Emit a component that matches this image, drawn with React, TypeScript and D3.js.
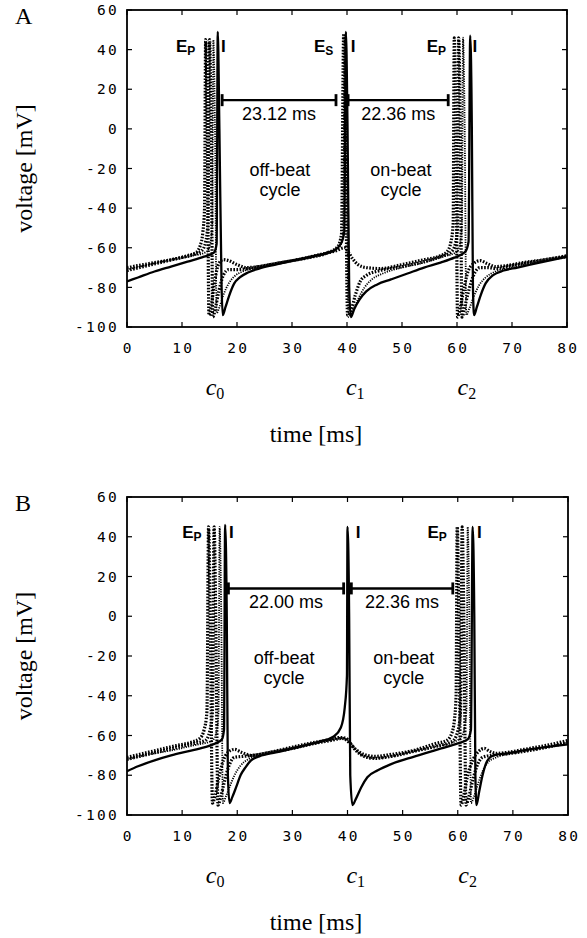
import React from 'react';
import * as d3 from 'd3';

type P = [number, number];

// ---- axis ticks ----
const xTickValues = [0, 10, 20, 30, 40, 50, 60, 70, 80];
const yTickValues = [60, 40, 20, 0, -20, -40, -60, -80, -100];

// ---- Panel A traces: [time ms, voltage mV] ----
const aSolid: P[] = [
  [0, -77], [2, -75], [5, -72], [8, -69.5], [11, -67], [14, -64.5], [15.8, -62.5], [16.3, -58], [16.5, 49], [16.8, 0],
  [17.2, -80], [17.4, -94], [17.9, -90], [18.6, -84], [19.5, -78], [20.5, -75], [22, -72.5], [24, -70.5], [27, -68.5],
  [31, -66], [35, -63.5], [37.5, -61.5], [38.9, -58], [39.5, -52], [39.8, 49], [40.1, 0], [40.4, -80], [40.7, -95],
  [41.3, -91], [42.3, -86], [43.5, -82], [45.5, -78.5], [48, -76], [51, -73], [54, -70], [57, -67.5], [59.5, -65],
  [61.5, -62], [62.1, -57], [62.4, 47], [62.7, 0], [62.9, -80], [63.1, -94], [63.6, -90], [64.3, -84], [65.2, -78],
  [66.5, -74], [68.5, -71.5], [71, -70], [75, -67.5], [80, -64.5],
];
const aDot1: P[] = [
  [0, -70], [3, -68.5], [6, -67], [9, -65.5], [11, -64], [12.5, -62.5], [13.3, -59], [13.8, -52], [14.1, -40], [14.3, 45],
  [14.6, 0], [14.9, -94], [15.4, -88], [16, -76], [16.7, -68], [17.5, -66], [18.5, -66.5], [20, -68.5], [21.8, -70],
  [24, -69.5], [27, -68], [31, -66], [35, -63.5], [38, -61.5], [39.6, -60], [40.2, -62], [41, -65.5], [42, -68.5],
  [43.5, -70], [46, -70.5], [50, -68.5], [54, -66], [57, -64], [58.2, -62], [58.9, -57], [59.3, -48], [59.5, 46],
  [59.8, 0], [60.1, -95], [60.6, -90], [61.3, -80], [62, -72], [63, -68], [64.2, -66.5], [65.5, -68], [67, -69.5],
  [69, -69], [72, -67.5], [76, -66], [80, -64],
];
const aDot2: P[] = [
  [0, -71.5], [3, -69.5], [6, -67.5], [9, -65.5], [12, -63.5], [13.6, -61.5], [14.3, -57], [14.7, -48], [15.0, 45],
  [15.3, 0], [15.6, -95], [16.1, -90], [16.7, -82], [17.5, -74], [18.5, -71], [20, -71], [22, -70.5], [25, -69],
  [29, -67], [33, -65], [36.5, -62.5], [38.3, -59.5], [39.0, -53], [39.4, 48], [39.7, 0], [40.1, -94], [40.7, -92],
  [41.5, -84], [42.4, -77], [43.5, -74], [46, -71.5], [50, -69.5], [54, -67], [57, -64.5], [59, -62], [59.7, -58],
  [60.1, -50], [60.3, 46], [60.6, 0], [60.9, -95], [61.4, -90], [62.1, -82], [63, -74], [64.2, -70], [65.5, -70],
  [67, -70.5], [70, -69], [74, -67], [80, -64.5],
];
const aDot3: P[] = [
  [0, -71], [4, -68.5], [8, -66], [12, -64], [14.5, -62], [15.2, -57], [15.5, -48], [15.7, 45], [16.0, 0], [16.3, -93],
  [16.8, -90], [17.5, -84], [18.5, -78], [19.5, -74.5], [21, -72], [24, -70], [28, -67.5], [32, -65.5], [36, -63],
  [38.5, -60], [39.3, -54], [39.6, 47], [39.9, 0], [40.3, -95], [41, -92], [42, -86], [43.2, -80], [44.5, -76],
  [46.5, -73], [50, -70], [54, -67.5], [57.5, -64.5], [60, -62], [60.6, -57], [60.9, -48], [61.1, 46], [61.4, 0],
  [61.7, -94], [62.2, -91], [63, -85], [64, -79], [65.2, -75], [67, -72], [70, -70], [75, -67], [80, -64.5],
];

// ---- Panel B traces ----
const bSolid: P[] = [
  [0, -78], [2, -75.5], [5, -72.5], [8, -70], [11, -68], [14, -66], [16, -64], [17.2, -62], [17.6, -57], [17.8, 46],
  [18.1, 0], [18.3, -80], [18.6, -94], [19.1, -91], [19.8, -86], [20.6, -80], [21.5, -76], [22.5, -72.5], [24, -70.5],
  [27, -68.5], [31, -66], [35, -63], [37.5, -60.5], [38.8, -56], [39.5, -46], [39.9, -30], [40.0, 45], [40.3, 0],
  [40.5, -80], [40.9, -95], [41.5, -92], [42.5, -86], [43.6, -81], [45.5, -77.5], [47.8, -74.5], [51, -71.5],
  [54, -69], [57, -66.5], [60, -64], [61.8, -62], [62.4, -57], [62.7, 45], [63.0, 0], [63.2, -80], [63.4, -95],
  [63.9, -88], [64.5, -80], [65.3, -73], [66.5, -70], [69, -69], [73, -67], [80, -64.5],
];
const bDot1: P[] = [
  [0, -71], [3, -69], [6, -67], [9, -65], [11.5, -63.5], [13.2, -61.5], [14.0, -57], [14.5, -48], [14.8, 45], [15.1, 0],
  [15.5, -94], [16, -90], [16.6, -82], [17.3, -74], [18.3, -68.5], [19.5, -67], [20.8, -68.5], [22.5, -70], [25, -69],
  [29, -66.5], [33, -64], [36, -62.5], [38.7, -61], [39.8, -61.5], [40.5, -64], [41.5, -67], [43, -69.5], [45, -70.5],
  [48, -69.5], [52, -67.5], [56, -64], [58, -62.5], [58.9, -59], [59.4, -52], [59.7, -40], [59.9, 45], [60.2, 0],
  [60.6, -95], [61.1, -90], [61.8, -80], [62.8, -72], [63.8, -68], [64.8, -66.5], [65.8, -68], [67, -69], [69, -68.5],
  [72, -67], [76, -65], [80, -62.5],
];
const bDot2: P[] = [
  [0, -72], [3, -70], [6, -68], [9, -66], [12, -64], [14.2, -62.5], [15.0, -58], [15.5, -48], [15.8, 45], [16.1, 0],
  [16.5, -95], [17, -91], [17.6, -84], [18.4, -76], [19.5, -71], [21, -70.5], [23, -70], [26, -68.5], [30, -66.5],
  [34, -64], [37, -62.5], [39, -61.5], [40.3, -63.5], [41.5, -67.5], [43, -70.5], [45, -71.5], [48, -70.5], [52, -68],
  [56, -65.5], [59, -63], [60.0, -58], [60.5, -48], [60.8, 45], [61.1, 0], [61.5, -95], [62, -91], [62.6, -84],
  [63.4, -76], [64.5, -71], [66, -70], [68, -69.5], [72, -68], [76, -66], [80, -63.5],
];
const bDot3: P[] = [
  [0, -72], [4, -69.5], [8, -67.5], [12, -65], [15.5, -62.5], [16.3, -57.5], [16.6, -48], [16.8, 45], [17.1, 0],
  [17.4, -94], [17.9, -91], [18.6, -86], [19.5, -80], [20.5, -75.5], [22, -72], [25, -69.5], [29, -67], [33, -64.5],
  [36.5, -62.5], [39, -61.5], [40.2, -62.5], [41.2, -66], [42.7, -70], [45, -71.5], [48, -70.5], [52, -68],
  [56, -65.5], [59.5, -63], [60.8, -60], [61.3, -55], [61.6, -45], [61.8, 45], [62.1, 0], [62.4, -94], [62.9, -91],
  [63.6, -85], [64.5, -78], [65.5, -73.5], [67, -71], [70, -69], [75, -66.5], [80, -63.5],
];

// ---- annotation texts ----
const aIntervals = ['23.12 ms', '22.36 ms'];
const bIntervals = ['22.00 ms', '22.36 ms'];
const cycleNames = ['off-beat', 'on-beat'];
const cLabels = ['0', '1', '2'];

type Style = 'solid' | 'dotThick' | 'dotFine';
interface Trace { data: P[]; style: Style }
interface Tag { t: number; main: string; sub?: string }
interface Bar { t0: number; t1: number; label: string }

interface PanelCfg {
  letter: string;
  top: number; bottom: number; left: number; right: number;
  traces: Trace[];
  tags: Tag[];
  bars: Bar[];
  barV: number; tagV: number;
  cycleT: number[];
  cT: number[];
}

const panels: PanelCfg[] = [
  {
    letter: 'A', top: 10, bottom: 327, left: 127, right: 567,
    traces: [
      { data: aDot1, style: 'dotThick' }, { data: aDot2, style: 'dotThick' },
      { data: aDot3, style: 'dotFine' }, { data: aSolid, style: 'solid' },
    ],
    tags: [
      { t: 8.9, main: 'E', sub: 'P' }, { t: 17.1, main: 'I' },
      { t: 34.0, main: 'E', sub: 'S' }, { t: 40.7, main: 'I' },
      { t: 54.5, main: 'E', sub: 'P' }, { t: 62.8, main: 'I' },
    ],
    bars: [
      { t0: 17.3, t1: 38.0, label: aIntervals[0] },
      { t0: 40.2, t1: 58.4, label: aIntervals[1] },
    ],
    barV: 14.5, tagV: 38.8,
    cycleT: [27.8, 49.8],
    cT: [16, 41.5, 61.8],
  },
  {
    letter: 'B', top: 497, bottom: 815, left: 127, right: 568,
    traces: [
      { data: bDot1, style: 'dotThick' }, { data: bDot2, style: 'dotThick' },
      { data: bDot3, style: 'dotFine' }, { data: bSolid, style: 'solid' },
    ],
    tags: [
      { t: 10.0, main: 'E', sub: 'P' }, { t: 18.5, main: 'I' },
      { t: 41.5, main: 'I' },
      { t: 54.5, main: 'E', sub: 'P' }, { t: 63.5, main: 'I' },
    ],
    bars: [
      { t0: 18.4, t1: 39.3, label: bIntervals[0] },
      { t0: 40.7, t1: 59.1, label: bIntervals[1] },
    ],
    barV: 14, tagV: 39.3,
    cycleT: [28.5, 50.2],
    cT: [16, 41.5, 61.8],
  },
];

const monoFont = '"DejaVu Sans Mono", monospace';
const serif = '"Liberation Serif", "Times New Roman", serif';
const sans = '"Liberation Sans", Arial, sans-serif';

function Panel({ cfg }: { cfg: PanelCfg }) {
  const x = d3.scaleLinear().domain([0, 80]).range([cfg.left, cfg.right]);
  const y = d3.scaleLinear().domain([-100, 60]).range([cfg.bottom, cfg.top]);
  const line = d3.line<P>().x(d => x(d[0])).y(d => y(d[1])).curve(d3.curveMonotoneX);
  const clipId = `clip-${cfg.letter}`;
  const tick = 5;
  const midY = (cfg.top + cfg.bottom) / 2;
  const styleProps = (s: Style) => {
    if (s === 'solid') return { strokeWidth: 2.3 };
    if (s === 'dotThick') return { strokeWidth: 3.2, strokeDasharray: '1.6 1.5' };
    return { strokeWidth: 1.8, strokeDasharray: '1.2 1.2' };
  };
  return (
    <g>
      <defs>
        <clipPath id={clipId}>
          <rect x={cfg.left} y={cfg.top} width={cfg.right - cfg.left} height={cfg.bottom - cfg.top} />
        </clipPath>
      </defs>
      <text x={15} y={cfg.top + 14} fontFamily={serif} fontSize={24}>{cfg.letter}</text>
      <g clipPath={`url(#${clipId})`}>
        {cfg.traces.map((tr, i) => (
          <path key={i} d={line(tr.data) || ''} fill="none" stroke="#000" {...styleProps(tr.style)} />
        ))}
      </g>
      <rect x={cfg.left} y={cfg.top} width={cfg.right - cfg.left} height={cfg.bottom - cfg.top}
        fill="none" stroke="#000" strokeWidth={1.8} />
      {xTickValues.map(v => (
        <g key={'x' + v}>
          <line x1={x(v)} x2={x(v)} y1={cfg.bottom} y2={cfg.bottom - tick} stroke="#000" strokeWidth={1.2} />
          <line x1={x(v)} x2={x(v)} y1={cfg.top} y2={cfg.top + tick} stroke="#000" strokeWidth={1.2} />
          <text x={x(v) + 1.2} y={cfg.bottom + 26} textAnchor="middle" fontFamily={monoFont} fontSize={14.5}
            letterSpacing={2.3}>{v}</text>
        </g>
      ))}
      {yTickValues.map(v => (
        <g key={'y' + v}>
          <line x1={cfg.left} x2={cfg.left + tick} y1={y(v)} y2={y(v)} stroke="#000" strokeWidth={1.2} />
          <line x1={cfg.right} x2={cfg.right - tick} y1={y(v)} y2={y(v)} stroke="#000" strokeWidth={1.2} />
          <text x={cfg.left - 8} y={y(v)} dy="0.36em" textAnchor="end" fontFamily={monoFont} fontSize={14.5}
            letterSpacing={2.3}>{v}</text>
        </g>
      ))}
      <text transform={`translate(32,${midY}) rotate(-90)`} textAnchor="middle" fontFamily={serif} fontSize={24}>
        voltage [mV]
      </text>
      <text x={316} y={cfg.bottom + 115} textAnchor="middle" fontFamily={serif} fontSize={24}>time [ms]</text>
      {cfg.cT.map((t, i) => (
        <text key={'c' + i} x={x(t)} y={cfg.bottom + 68} textAnchor="middle" fontFamily={serif} fontSize={24}>
          <tspan fontStyle="italic">c</tspan><tspan fontSize={16} dy={4}>{cLabels[i]}</tspan>
        </text>
      ))}
      {cfg.tags.map((tg, i) => (
        <text key={'t' + i} x={x(tg.t)} y={y(cfg.tagV)} fontFamily={sans} fontWeight="bold" fontSize={17}>
          {tg.main}
          {tg.sub && <tspan fontSize={12} dy={3}>{tg.sub}</tspan>}
        </text>
      ))}
      {cfg.bars.map((b, i) => {
        const x0 = x(b.t0), x1 = x(b.t1), yy = y(cfg.barV);
        return (
          <g key={'b' + i}>
            <line x1={x0} x2={x1} y1={yy} y2={yy} stroke="#000" strokeWidth={2.4} />
            <line x1={x0} x2={x0} y1={yy - 6} y2={yy + 6} stroke="#000" strokeWidth={2.8} />
            <line x1={x1} x2={x1} y1={yy - 6} y2={yy + 6} stroke="#000" strokeWidth={2.8} />
            <text x={(x0 + x1) / 2} y={yy + 20} textAnchor="middle" fontFamily={sans} fontSize={18}>{b.label}</text>
          </g>
        );
      })}
      {cfg.cycleT.map((t, i) => (
        <text key={'n' + i} x={x(t)} y={y(-24)} textAnchor="middle" fontFamily={sans} fontSize={18}>
          <tspan x={x(t)}>{cycleNames[i]}</tspan>
          <tspan x={x(t)} dy={20}>cycle</tspan>
        </text>
      ))}
    </g>
  );
}

export default function App() {
  return (
    <svg width={587} height={938} style={{ position: 'absolute', left: 0, top: 0, background: '#fff' }}>
      <rect width={587} height={938} fill="#fff" />
      {panels.map(p => <Panel key={p.letter} cfg={p} />)}
    </svg>
  );
}
